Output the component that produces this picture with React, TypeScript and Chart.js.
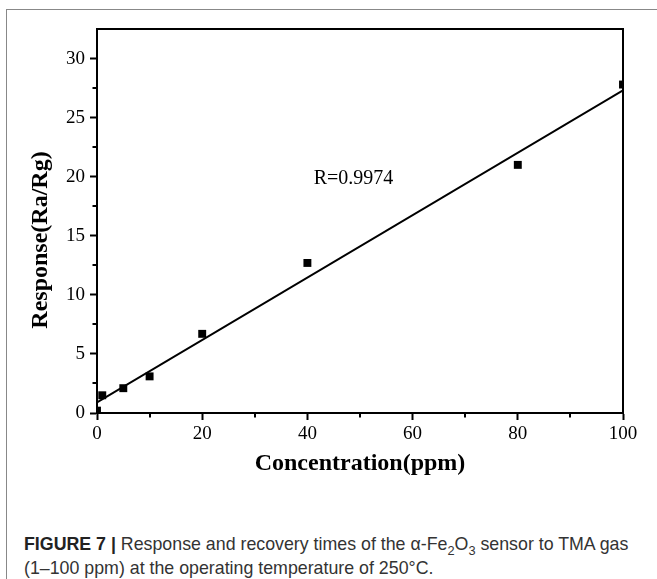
import React, { useEffect, useRef } from "react";
import { Chart, registerables } from "chart.js";

Chart.register(...registerables);

// ---- data ----
const concentration = [0, 1, 5, 10, 20, 40, 80, 100];
const response = [0.2, 1.5, 2.1, 3.1, 6.7, 12.7, 21.0, 27.8];
const fitX = [0, 100];
const fitY = [0.9, 27.3];
const xMinorTicks = [10, 30, 50, 70, 90];
const yMinorTicks = [2.5, 7.5, 12.5, 17.5, 22.5, 27.5];
const xTitle = "Concentration(ppm)";
const yTitle = "Response(Ra/Rg)";
const rLabel = "R=0.9974";
const rLabelAt = { x: 41.2, y: 19.4 };

const SERIF = '"Liberation Serif", "Times New Roman", serif';

const decorPlugin = {
  id: "decor",
  afterDraw(chart: any) {
    const { ctx, chartArea } = chart;
    const xs = chart.scales.x;
    const ys = chart.scales.y;
    ctx.save();
    // frame (top + right)
    ctx.strokeStyle = "#000";
    ctx.lineWidth = 2;
    ctx.strokeRect(chartArea.left, chartArea.top, chartArea.right - chartArea.left, chartArea.bottom - chartArea.top);
    // minor ticks
    ctx.beginPath();
    xMinorTicks.forEach((v) => {
      const px = Math.round(xs.getPixelForValue(v));
      ctx.moveTo(px, chartArea.bottom);
      ctx.lineTo(px, chartArea.bottom + 4.5);
    });
    yMinorTicks.forEach((v) => {
      const py = Math.round(ys.getPixelForValue(v));
      ctx.moveTo(chartArea.left, py);
      ctx.lineTo(chartArea.left - 4.5, py);
    });
    ctx.stroke();
    // annotation
    ctx.fillStyle = "#000";
    ctx.font = `20px ${SERIF}`;
    ctx.textAlign = "left";
    ctx.textBaseline = "alphabetic";
    ctx.fillText(rLabel, xs.getPixelForValue(rLabelAt.x), ys.getPixelForValue(rLabelAt.y));
    // axis titles
    ctx.font = `bold 24px ${SERIF}`;
    ctx.textAlign = "center";
    ctx.fillText(xTitle, (chartArea.left + chartArea.right) / 2, chartArea.bottom + 57);
    ctx.translate(chartArea.left - 50, 240);
    ctx.rotate(-Math.PI / 2);
    ctx.fillText(yTitle, 0, 0);
    ctx.restore();
  },
};

export default function App() {
  const ref = useRef<HTMLCanvasElement | null>(null);

  useEffect(() => {
    if (!ref.current) return;
    const chart = new Chart(ref.current, {
      type: "scatter",
      data: {
        datasets: [
          {
            label: "fit",
            data: fitX.map((x, i) => ({ x, y: fitY[i] })),
            showLine: true,
            borderColor: "#000",
            borderWidth: 2,
            pointRadius: 0,
            clip: 0,
          },
          {
            label: "response",
            data: concentration.map((x, i) => ({ x, y: response[i] })),
            pointStyle: "rect",
            pointRadius: 5.6,
            pointBackgroundColor: "#000",
            pointBorderColor: "#000",
            pointBorderWidth: 0,
            clip: 0,
          },
        ],
      },
      options: {
        responsive: false,
        animation: false,
        events: [],
        layout: { padding: { top: 29, right: 34, left: 0, bottom: 0 } },
        plugins: { legend: { display: false }, tooltip: { enabled: false } },
        scales: {
          x: {
            type: "linear",
            min: 0,
            max: 100,
            afterFit: (s: any) => {
              s.height = 480 - 413;
            },
            border: { display: true, color: "#000", width: 2 },
            grid: { display: true, drawOnChartArea: false, drawTicks: true, tickLength: 7, tickColor: "#000", tickWidth: 2 },
            ticks: { stepSize: 20, color: "#000", padding: 3, font: { family: SERIF, size: 19 }, maxRotation: 0 },
          },
          y: {
            type: "linear",
            min: 0,
            max: 32.5,
            afterFit: (s: any) => {
              s.width = 97;
            },
            border: { display: true, color: "#000", width: 2 },
            grid: { display: true, drawOnChartArea: false, drawTicks: true, tickLength: 7, tickColor: "#000", tickWidth: 2 },
            ticks: { stepSize: 5, includeBounds: false, color: "#000", padding: 5, font: { family: SERIF, size: 19 } },
          },
        },
      },
      plugins: [decorPlugin],
    } as any);
    return () => chart.destroy();
  }, []);

  return (
    <div style={{ position: "absolute", left: 0, top: 0, width: 657, height: 579, overflow: "hidden", background: "#fff" }}>
      <div
        style={{
          position: "absolute",
          left: 6,
          top: 9,
          width: 700,
          height: 700,
          borderTop: "1.5px solid #888",
          borderLeft: "1.5px solid #888",
        }}
      />
      <canvas ref={ref} width={657} height={480} style={{ position: "absolute", left: 0, top: 0 }} />
      <div
        style={{
          position: "absolute",
          left: 24,
          top: 532,
          width: 633,
          fontFamily: '"Liberation Sans", Arial, sans-serif',
          fontSize: 17.8,
          lineHeight: "24px",
          color: "#333",
          whiteSpace: "nowrap",
        }}
      >
        <span style={{ fontWeight: "bold", color: "#222" }}>FIGURE 7 |</span> Response and recovery times of the α-Fe
        <sub style={{ fontSize: "0.72em", lineHeight: 0 }}>2</sub>O<sub style={{ fontSize: "0.72em", lineHeight: 0 }}>3</sub> sensor to
        TMA gas
        <br />
        (1–100 ppm) at the operating temperature of 250°C.
      </div>
    </div>
  );
}
